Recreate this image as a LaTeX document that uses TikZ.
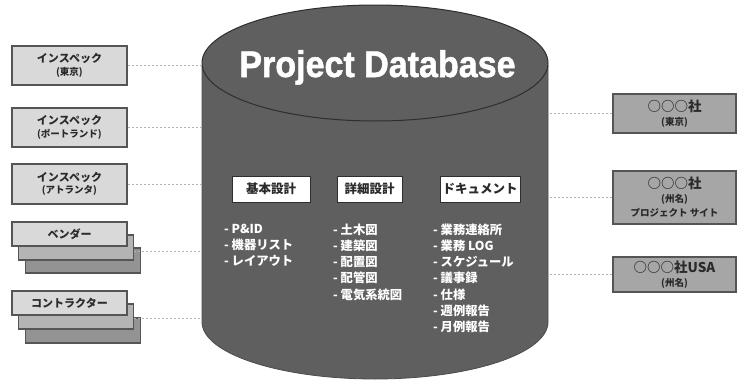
\documentclass[tikz,border=0pt]{standalone}
\usepackage{fontspec}
\setmainfont{Noto Sans CJK JP}
\newfontfamily\titlefont{Liberation Sans}[BoldFeatures={FakeBold=1.5}]
\definecolor{cylfill}{HTML}{5F5F5F}
\definecolor{cylline}{HTML}{2E2E2E}
\definecolor{lbox}{HTML}{D9D9D9}
\definecolor{mbox}{HTML}{B4B4B4}
\definecolor{dbox}{HTML}{939393}
\definecolor{rbox}{HTML}{A6A6A6}
\definecolor{edge}{HTML}{555555}
\definecolor{txt}{HTML}{2A2A2A}
\tikzset{
  gbox/.style={draw=edge, line width=1.3pt, fill=lbox, minimum width=115pt, inner sep=0pt, align=center, text=txt, font=\bfseries\fontsize{11}{12.5}\selectfont},
  rgbox/.style={draw=edge, line width=1.3pt, fill=rbox, minimum width=123pt, inner sep=0pt, align=center, text=txt, font=\bfseries\fontsize{13.5}{14}\selectfont},
  catbox/.style={draw=cylline, line width=1pt, fill=white, inner sep=0pt, text=txt, font=\bfseries\fontsize{12.5}{13}\selectfont},
  listtxt/.style={anchor=north west, inner sep=0pt, align=left, text=white, font=\bfseries\fontsize{12.3}{16.2}\selectfont},
  dashline/.style={draw=gray!60, line width=0.8pt, dash pattern=on 2pt off 2pt}
}
\newcommand{\sm}[1]{{\fontsize{9.5}{11}\selectfont #1}}
\begin{document}
\begin{tikzpicture}[x=1pt,y=-1pt]
\useasboundingbox (0,0) rectangle (737,383);
% cylinder
\coordinate (cylTL) at (202,65);
\coordinate (cylTR) at (548,65);
\coordinate (cylBL) at (202,322);
\coordinate (cylBR) at (548,322);
\fill[cylfill] (cylTL) -- (cylBL) arc[start angle=180, end angle=0, x radius=173, y radius=57] -- (cylTR) -- cycle;
\draw[gray!60!black, line width=0.8pt] (cylTL) -- (cylBL) arc[start angle=180, end angle=0, x radius=173, y radius=57] -- (cylTR);
\draw[cylline, fill=cylfill, line width=1pt] (375,63) ellipse[x radius=173, y radius=58];
\node[text=white, font=\titlefont\bfseries\fontsize{37}{38}\selectfont, inner sep=0pt, anchor=base, xscale=0.92] (title) at (377.5,77) {Project Database};
% left boxes
\node[gbox, minimum height=39pt] (b1) at (69.5,65.5) {インスペック\\\sm{(東京)}};
\node[gbox, minimum height=39pt] (b2) at (69.5,127.5) {インスペック\\\sm{(ポートランド)}};
\node[gbox, minimum height=40pt] (b3) at (69.5,184) {インスペック\\\sm{(アトランタ)}};
% vendor stack
\node[gbox, fill=dbox, minimum height=25pt] (v3) at (83,260.5) {};
\node[gbox, fill=mbox, minimum height=25pt] (v2) at (76,247.5) {};
\node[gbox, minimum height=24pt] (v1) at (69.5,234) {ベンダー};
% contractor stack
\node[gbox, fill=dbox, minimum height=25pt] (c3) at (83,330.5) {};
\node[gbox, fill=mbox, minimum height=25pt] (c2) at (76,316.5) {};
\node[gbox, minimum height=24pt] (c1) at (69.5,303) {コントラクター};
% right boxes
\node[rgbox, minimum height=39pt] (r1) at (674.5,113.5) {○○○社\\\sm{(東京)}};
\node[rgbox, minimum height=53pt] (r2) at (674.5,197.5) {○○○社\\\sm{(州名)}\\\sm{プロジェクト サイト}};
\node[rgbox, minimum height=35pt] (r3) at (674.5,274.5) {○○○社USA\\\sm{(州名)}};
% connectors
\draw[dashline] (b1.east) -- (b1.east -| cylTL);
\draw[dashline] (b2.east) -- (b2.east -| cylTL);
\draw[dashline] (b3.east) -- (b3.east -| cylTL);
\draw[dashline] ([yshift=-4pt]v2.east) -- ([yshift=-4pt]v2.east -| cylTL);
\draw[dashline] ([yshift=-2pt]c2.east) -- ([yshift=-2pt]c2.east -| cylTL);
\draw[dashline] (r1.west) -- (r1.west -| cylTR);
\draw[dashline] (r2.west) -- (r2.west -| cylTR);
\draw[dashline] (r3.west) -- (r3.west -| cylTR);
% category boxes
\node[catbox, minimum width=78pt, minimum height=26pt] (k1) at (271,189) {基本設計};
\node[catbox, minimum width=65pt, minimum height=26pt] (k2) at (369.5,189) {詳細設計};
\node[catbox, minimum width=80pt, minimum height=26pt] (k3) at (480,189) {ドキュメント};
% lists
\node[listtxt] (l1) at (224,223.5) {- P\&ID\\- 機器リスト\\- レイアウト};
\node[listtxt] (l2) at (333,223.5) {- 土木図\\- 建築図\\- 配置図\\- 配管図\\- 電気系統図};
\node[listtxt] (l3) at (433,223.5) {- 業務連絡所\\- 業務 LOG\\- スケジュール\\- 議事録\\- 仕様\\- 週例報告\\- 月例報告};
\end{tikzpicture}
\end{document}
